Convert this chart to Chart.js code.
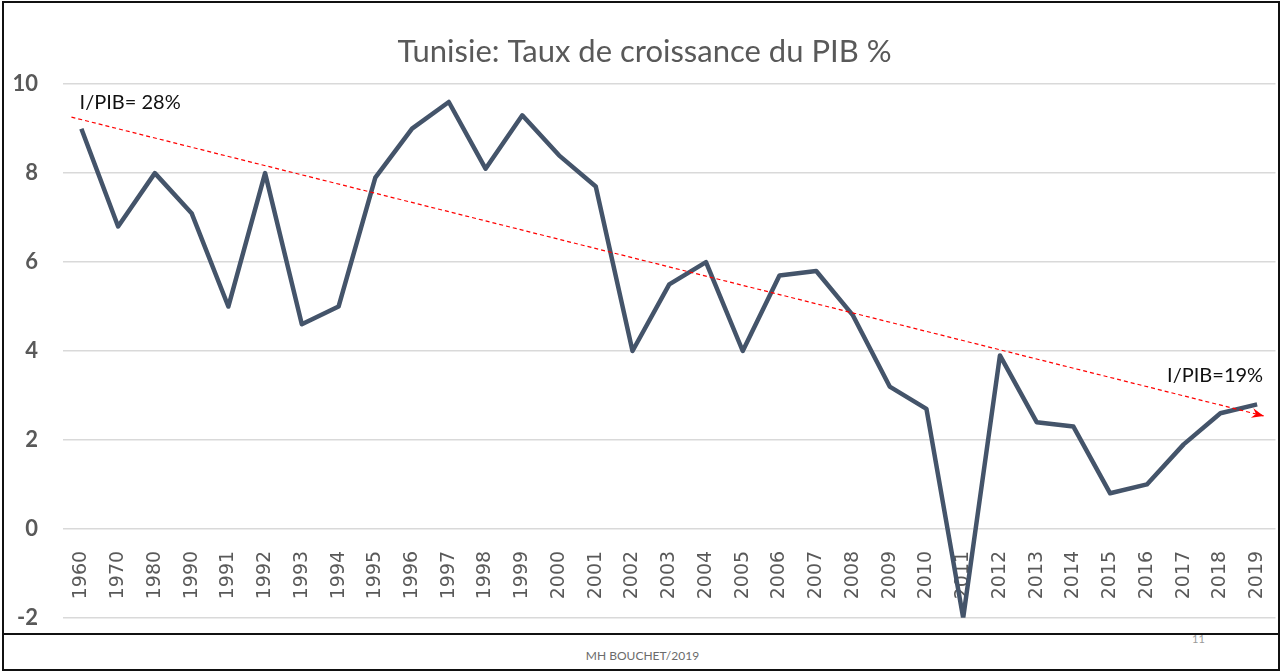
<!DOCTYPE html>
<html>
<head>
<meta charset="utf-8">
<script src="https://cdn.jsdelivr.net/npm/chart.js@4"></script>
<style>
  html, body { margin: 0; padding: 0; background: #fff; }
  #wrap { position: relative; width: 1285px; height: 672px; overflow: hidden; }
  #frame { position: absolute; left: 2px; top: 1px; width: 1274px; height: 666px; border: 2px solid #111; }
  #sep { position: absolute; left: 2px; top: 633px; width: 1278px; height: 2px; background: #111; }
  #foot { position: absolute; left: 0; width: 1285px; top: 648px; text-align: center;
          font: 12px Lato, sans-serif; color: #6b6b6b; }
  #page { position: absolute; left: 1192px; top: 632px; font: 11px Lato, sans-serif; color: #9a9a9a; }
  canvas { position: absolute; left: 0; top: 0; }
</style>
</head>
<body>
<div id="wrap">
  <div id="frame"></div>
  <div id="sep"></div>
  <div id="page">11</div>
  <div id="foot">MH BOUCHET/2019</div>
  <canvas id="chart" width="1294" height="656"></canvas>
</div>
<script>
const years = ['1960', '1970', '1980', '1990', '1991', '1992', '1993', '1994', '1995', '1996', '1997',
  '1998', '1999', '2000', '2001', '2002', '2003', '2004', '2005', '2006', '2007', '2008', '2009',
  '2010', '2011', '2012', '2013', '2014', '2015', '2016', '2017', '2018', '2019'];
const growth = [9.0, 6.8, 8.0, 7.1, 5.0, 8.0, 4.6, 5.0, 7.9, 9.0, 9.6,
  8.1, 9.3, 8.4, 7.7, 4.0, 5.5, 6.0, 4.0, 5.7, 5.8, 4.8, 3.2,
  2.7, -2.0, 3.9, 2.4, 2.3, 0.8, 1.0, 1.9, 2.6, 2.8];

// dashed trend arrow (category index, value)
const trendIndex = [-0.27, 32.18];
const trendValue = [9.26, 2.54];

// text notes
const noteText = ['I/PIB= 28%', 'I/PIB=19%'];
const noteIndex = [-0.05, 29.55];
const noteValue = [9.45, 3.3];

const notes = {
  id: 'notes',
  afterDatasetsDraw(chart) {
    const ctx = chart.ctx;
    const x = chart.scales.x, y = chart.scales.y;
    const x0 = x.getPixelForValue(trendIndex[0]), y0 = y.getPixelForValue(trendValue[0]);
    const x1 = x.getPixelForValue(trendIndex[1]), y1 = y.getPixelForValue(trendValue[1]);
    ctx.save();
    ctx.strokeStyle = '#ff0000';
    ctx.lineWidth = 1.2;
    ctx.setLineDash([4, 3]);
    ctx.beginPath();
    ctx.moveTo(x0, y0);
    ctx.lineTo(x1, y1);
    ctx.stroke();
    ctx.setLineDash([]);
    const a = Math.atan2(y1 - y0, x1 - x0);
    ctx.fillStyle = '#ff0000';
    ctx.beginPath();
    ctx.moveTo(x1, y1);
    ctx.lineTo(x1 - 12 * Math.cos(a) + 5 * Math.sin(a), y1 - 12 * Math.sin(a) - 5 * Math.cos(a));
    ctx.lineTo(x1 - 8 * Math.cos(a), y1 - 8 * Math.sin(a));
    ctx.lineTo(x1 - 12 * Math.cos(a) - 5 * Math.sin(a), y1 - 12 * Math.sin(a) + 5 * Math.cos(a));
    ctx.closePath();
    ctx.fill();

    ctx.fillStyle = '#111';
    ctx.font = '20px Lato, sans-serif';
    ctx.textBaseline = 'alphabetic';
    ctx.textAlign = 'left';
    noteText.forEach((t, i) => {
      ctx.fillText(t, x.getPixelForValue(noteIndex[i]), y.getPixelForValue(noteValue[i]));
    });
    ctx.restore();
  }
};

new Chart(document.getElementById('chart'), {
  type: 'line',
  data: {
    labels: years,
    datasets: [{
      data: growth,
      borderColor: '#44546a',
      borderWidth: 4.5,
      pointRadius: 0,
      tension: 0,
      borderJoinStyle: 'round',
      fill: false
    }]
  },
  options: {
    responsive: false,
    animation: false,
    layout: { padding: { left: 0, right: 5, top: 0, bottom: 16 } },
    plugins: {
      legend: { display: false },
      tooltip: { enabled: false },
      title: {
        display: true,
        text: 'Tunisie: Taux de croissance du PIB %',
        color: '#595959',
        font: { family: 'Lato, sans-serif', size: 31, weight: 'normal' },
        padding: { top: 33, bottom: 14 }
      }
    },
    scales: {
      x: {
        type: 'category',
        offset: true,
        position: { y: 0 },
        grid: { display: false },
        border: { display: false },
        ticks: {
          minRotation: 90,
          maxRotation: 90,
          autoSkip: false,
          padding: 14,
          color: '#595959',
          font: { family: '"DejaVu Sans", sans-serif', size: 19 }
        }
      },
      y: {
        min: -2,
        max: 10,
        grid: { color: '#d9d9d9', lineWidth: 1.5, drawTicks: false },
        border: { display: false },
        ticks: {
          stepSize: 2,
          padding: 25,
          color: '#595959',
          font: { family: 'Lato, sans-serif', size: 22, weight: 'bold' }
        },
        afterFit(scale) { scale.width = 63; }
      }
    }
  },
  plugins: [notes]
});
</script>
</body>
</html>
